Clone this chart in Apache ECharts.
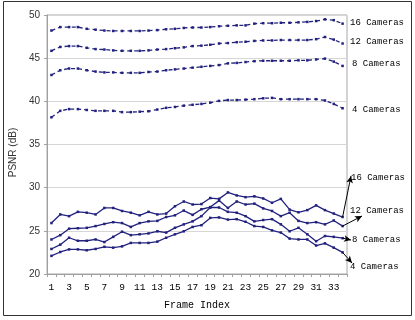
<!DOCTYPE html>
<html>
<head>
<meta charset="utf-8">
<script src="https://cdn.jsdelivr.net/npm/echarts@6/dist/echarts.min.js"></script>
<style>html,body{margin:0;padding:0;background:#fff;}#c{width:415px;height:320px;}</style>
</head>
<body>
<div id="c"></div>
<script>
const frames = ['1','2','3','4','5','6','7','8','9','10','11','12','13','14','15','16','17','18','19','20','21','22','23','24','25','26','27','28','29','30','31','32','33','34'];
const yTicks = { min: 20, max: 50, step: 5 };

// Upper group (dashed)
const up16 = [48.2,48.6,48.6,48.6,48.4,48.3,48.2,48.15,48.15,48.15,48.15,48.2,48.25,48.35,48.4,48.5,48.55,48.55,48.6,48.7,48.75,48.8,48.8,49.0,49.05,49.05,49.1,49.1,49.15,49.2,49.3,49.5,49.4,49.0];
const up12 = [45.85,46.3,46.4,46.4,46.2,46.05,46.0,45.9,45.85,45.85,45.85,45.9,46.0,46.05,46.15,46.25,46.4,46.45,46.55,46.7,46.75,46.85,46.9,47.0,47.05,47.05,47.1,47.1,47.1,47.1,47.2,47.45,47.15,46.7];
const up8  = [43.05,43.6,43.8,43.8,43.6,43.45,43.35,43.35,43.3,43.3,43.3,43.4,43.45,43.6,43.7,43.8,43.9,44.0,44.1,44.2,44.4,44.45,44.55,44.65,44.7,44.7,44.7,44.7,44.75,44.75,44.85,44.95,44.6,44.1];
const up4  = [38.15,38.9,39.1,39.1,39.0,38.9,38.9,38.9,38.75,38.75,38.8,38.85,39.05,39.25,39.35,39.5,39.6,39.7,39.85,40.05,40.15,40.15,40.2,40.25,40.35,40.4,40.25,40.25,40.25,40.25,40.25,40.1,39.7,39.2];

// Lower group (solid)
const lo16 = [25.9,26.9,26.7,27.2,27.1,26.9,27.65,27.65,27.3,27.1,26.8,27.2,26.9,27.0,27.85,28.4,28.05,28.1,28.8,28.7,29.45,29.1,28.9,29.0,28.75,28.25,28.7,27.45,27.15,27.4,27.95,27.4,27.0,26.6];
const lo12 = [24.0,24.5,25.25,25.3,25.35,25.55,25.8,26.0,25.9,25.45,25.9,26.1,26.15,26.6,26.8,27.35,26.85,27.5,27.75,28.5,27.65,28.4,28.05,28.15,27.6,27.3,26.7,27.1,26.15,25.9,26.0,25.75,26.2,25.55];
const lo8  = [22.9,23.4,24.2,23.85,23.85,24.0,23.7,24.3,24.9,24.5,24.6,24.7,24.95,24.8,25.35,25.75,26.1,26.7,27.7,27.7,27.2,27.1,26.7,26.1,26.25,26.35,25.75,24.95,25.35,24.6,23.8,24.4,24.3,24.15];
const lo4  = [22.1,22.55,22.85,22.85,22.75,22.9,23.15,23.05,23.2,23.6,23.6,23.6,23.75,24.2,24.6,24.95,25.45,25.65,26.5,26.55,26.3,26.35,26.05,25.55,25.45,25.05,24.8,24.1,24.0,24.0,23.3,23.55,23.05,22.5];

const seriesNames = ['16 Cameras','12 Cameras','8 Cameras','4 Cameras'];

const lineColor = '#22227e';
const mono = 'Liberation Mono';

function upper(name, data) {
  return {
    name: name, type: 'line', data: data,
    symbol: 'rect', symbolSize: 2.5, showSymbol: true,
    itemStyle: { color: lineColor },
    lineStyle: { color: lineColor, width: 1.3, type: [4, 3] },
    animation: false, silent: true
  };
}
function lower(name, data, tip) {
  const last = data.length - 1;
  return {
    name: name, type: 'line', data: data,
    symbol: 'rect', symbolSize: 2.5, showSymbol: true,
    itemStyle: { color: lineColor },
    lineStyle: { color: lineColor, width: 1.3 },
    animation: false, silent: true,
    markLine: {
      silent: true, animation: false,
      symbol: ['none', 'arrow'], symbolSize: [5, 7],
      label: { show: false },
      lineStyle: { color: '#000', width: 1, type: 'solid' },
      emphasis: { disabled: true },
      data: [[ { coord: [last, data[last]] }, { x: tip[0], y: tip[1] } ]]
    }
  };
}

function txt(x, y, s) {
  return { type: 'text', left: x, top: y - 6, silent: true,
    style: { text: s, font: '9px "' + mono + '"', fill: '#000' } };
}

const chart = echarts.init(document.getElementById('c'), null, { renderer: 'canvas' });
chart.setOption({
  backgroundColor: '#fff',
  animation: false,
  grid: { left: 43, right: 68, top: 15, bottom: 46, show: true, borderColor: '#a8a8a8', borderWidth: 1, backgroundColor: '#fff' },
  xAxis: {
    type: 'category', data: frames, boundaryGap: true,
    name: 'Frame Index', nameLocation: 'middle', nameGap: 26,
    nameTextStyle: { fontFamily: mono, fontSize: 10, color: '#000' },
    axisLine: { lineStyle: { color: '#a0a0a0' } },
    axisTick: { show: true, interval: 0, length: 3, lineStyle: { color: '#a0a0a0' } },
    axisLabel: { interval: 1, fontFamily: mono, fontSize: 9.5, color: '#000', margin: 8 },
    splitLine: { show: false }
  },
  yAxis: {
    type: 'value', min: yTicks.min, max: yTicks.max, interval: yTicks.step,
    name: 'PSNR (dB)', nameLocation: 'middle', nameGap: 24,
    nameTextStyle: { fontFamily: 'Liberation Sans', fontSize: 10, color: '#333', padding: [0, 16, 0, 0] },
    axisLine: { show: true, lineStyle: { color: '#a0a0a0' } },
    axisTick: { show: true, length: 3, lineStyle: { color: '#a0a0a0' } },
    axisLabel: { fontFamily: 'Liberation Sans', fontSize: 10, color: '#333', margin: 7 },
    splitLine: { lineStyle: { color: '#d6d6d6', width: 1 } }
  },
  series: [
    upper(seriesNames[0], up16), upper(seriesNames[1], up12), upper(seriesNames[2], up8), upper(seriesNames[3], up4),
    lower(seriesNames[0], lo16, [351, 176]),
    lower(seriesNames[1], lo12, [362, 216]),
    lower(seriesNames[2], lo8, [351, 240]),
    lower(seriesNames[3], lo4, [352, 263])
  ],
  graphic: [
    { type: 'rect', shape: { x: 3.5, y: 1.5, width: 408, height: 314 }, silent: true,
      style: { fill: 'none', stroke: '#333', lineWidth: 1 } },
    txt(350, 24, seriesNames[0]), txt(350, 43, seriesNames[1]), txt(352, 65, seriesNames[2]), txt(352, 111, seriesNames[3]),
    txt(351, 179, seriesNames[0]), txt(350, 212, seriesNames[1]), txt(352, 241, seriesNames[2]), txt(350, 268, seriesNames[3])
  ]
});
</script>
</body>
</html>
